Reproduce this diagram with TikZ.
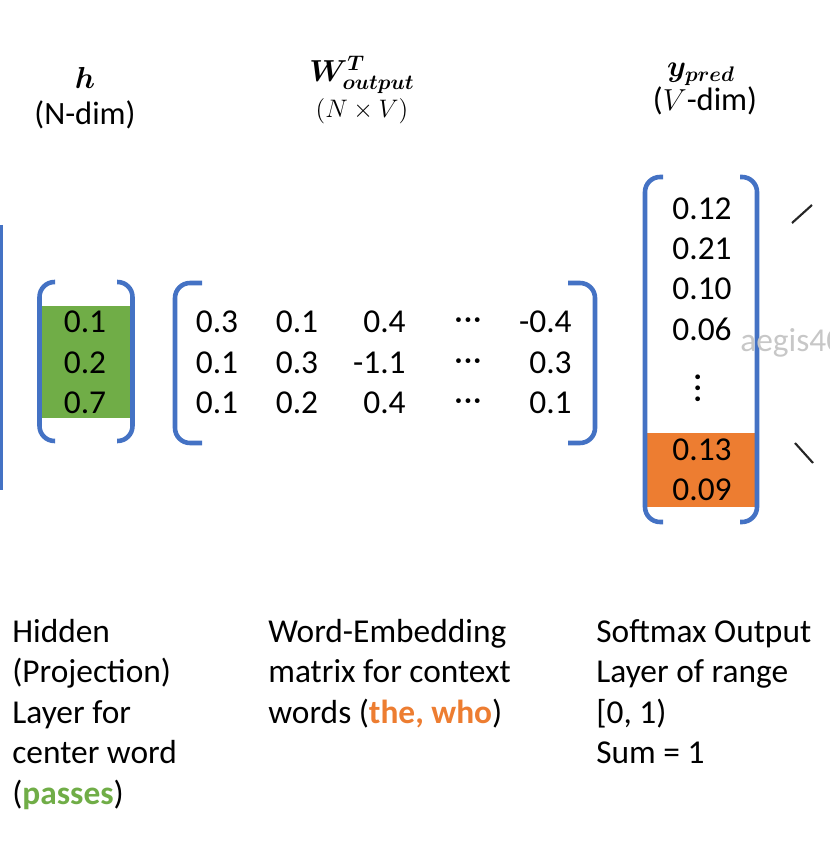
\documentclass[tikz,border=0pt]{standalone}
\usepackage{fontspec}
\usepackage{amsmath,bm}
\setmainfont{Carlito}
\definecolor{bracketblue}{HTML}{4472C4}
\definecolor{hidgreen}{HTML}{70AD47}
\definecolor{outorange}{HTML}{ED7D31}

\begin{document}
\begin{tikzpicture}[x=0.02cm,y=-0.02cm]

% Sizes and styles
\def\LW{2.6pt}
\def\Row{40}
\def\Dots{·\kern0.6pt·\kern0.6pt·}
\tikzset{brak/.style={bracketblue,line width=\LW,rounded corners=0.3cm},
         num/.style={anchor=base,inner sep=0pt,font=\fontsize{19}{23}\selectfont},
         head/.style={anchor=base,inner sep=0pt,font=\fontsize{18.5}{22}\selectfont},
         note/.style={anchor=north west,align=left,inner sep=0pt,font=\fontsize{19}{23}\selectfont}}

\useasboundingbox (0,0) rectangle (830,854);

% Bracket cut at the left border
\draw[bracketblue,line width=\LW] (1,225) -- (1,490);

% Hidden vector h
\fill[hidgreen] (40,306) rectangle (131,418);
\draw[brak] (55,282) -- (39.5,282) -- (39.5,441) -- (55,441);
\draw[brak] (117,282) -- (132.5,282) -- (132.5,441) -- (117,441);
\foreach \v [count=\i] in {0.1,0.2,0.7}
{\node[num] (h\i) at (85,{293+\Row*\i}) {\v};}

% Output weight matrix
\draw[brak] (202,283) -- (175,283) -- (175,443) -- (202,443);
\draw[brak] (568,283) -- (595,283) -- (595,443) -- (568,443);
\foreach \a/\b/\c/\d [count=\i] in {0.3/0.1/0.4/-0.4,0.1/0.3/-1.1/0.3,0.1/0.2/0.4/0.1}
{\node[num] (wa\i) at (217,{293+\Row*\i}) {\a};
\node[num] (wb\i) at (297,{293+\Row*\i}) {\b};
\node[num,anchor=base east] (wc\i) at (406,{293+\Row*\i}) {\c};
\node[num] (wdots\i) at (468,{290+\Row*\i}) {\Dots};
\node[num,anchor=base east] (wd\i) at (572,{293+\Row*\i}) {\d};}

% Softmax output y_pred
\fill[outorange] (647,433) rectangle (755,507);
\draw[brak] (663,177) -- (645,177) -- (645,522) -- (663,522);
\draw[brak] (740,177) -- (757,177) -- (757,522) -- (740,522);
\foreach \v [count=\i] in {0.12,0.21,0.10,0.06}
{\node[num] (y\i) at (702,{180+\Row*\i}) {\v};}
\node[num,anchor=center,rotate=90] (ydots) at (702,388) {·\kern1.6pt·\kern1.6pt·};
\node[num] (y5) at (702,460) {0.13};
\node[num] (y6) at (702,500) {0.09};

% Watermark and side strokes
\node[num,anchor=base west,text=black!22] (mark) at (740,352) {aegis40};
\draw[line width=1.2pt,black!85] (792,223) -- (812,205);
\draw[line width=1.2pt,black!85] (795,443) -- (813,463);

% Headers
\node[head] (hlab) at (85,89) {$\boldsymbol{h}$};
\node[head] (hdim) at (85,125) {(N-dim)};
\node[head,font=\fontsize{17}{20}\selectfont] (wlab) at (362,82) {$\boldsymbol{W^{T}_{output}}$};
\node[head,font=\fontsize{15}{18}\selectfont] (wdim) at (362,118) {$(N\times V)$};
\node[head] (ylab) at (701,77) {$\boldsymbol{y_{pred}}$};
\node[head] (ydim) at (705,111) {($V$-dim)};

% Captions
\node[note] (hnote) at (12,619) {Hidden\\(Projection)\\Layer for\\center word\\(\textcolor{hidgreen}{\textbf{passes}})};
\node[note] (wnote) at (268,619) {Word-Embedding\\matrix for context\\words (\textcolor{outorange}{\textbf{the, who}})};
\node[note] (ynote) at (596,619) {Softmax Output\\Layer of range\\{[0, 1)}\\Sum = 1};
\end{tikzpicture}
\end{document}
